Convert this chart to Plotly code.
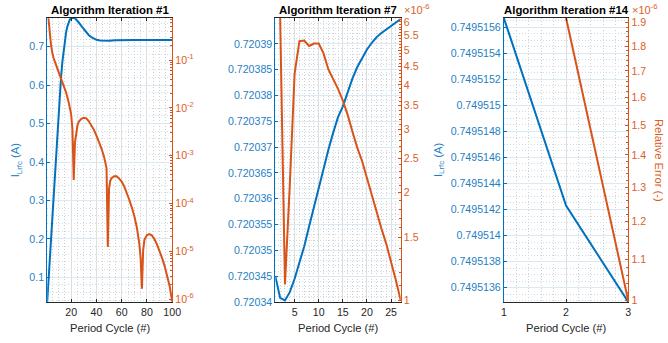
import plotly.graph_objects as go

BLUE = "#0072BD"
ORANGE = "#D95319"
AXC = "#262626"
FONT = "Liberation Sans, Arial, Helvetica, sans-serif"

# ---------------- data ----------------
titles = ["Algorithm Iteration #1", "Algorithm Iteration #7", "Algorithm Iteration #14"]
x_title = "Period Cycle (#)"
y_left_title = "I<sub>Lrfc</sub> (A)"
y_right_title = "Relative Error (-)"

# Iteration #1
it1_cycle_current = [1, 2, 3, 4, 5, 6, 7, 8, 9, 10, 11, 12, 13, 14, 15, 16, 17, 18, 19, 20,
                     21, 22, 23, 24, 26, 28, 30, 32, 34, 36, 38, 40, 43, 46, 50, 55, 60, 70,
                     80, 90, 100]
it1_current = [0.036, 0.09, 0.145, 0.20, 0.258, 0.315, 0.372, 0.425, 0.473, 0.522, 0.575,
               0.622, 0.66, 0.69, 0.716, 0.738, 0.753, 0.764, 0.771, 0.774, 0.775, 0.775,
               0.774, 0.771, 0.763, 0.754, 0.745, 0.737, 0.730, 0.725, 0.721, 0.718, 0.716,
               0.7155, 0.7158, 0.7165, 0.7172, 0.7175, 0.7175, 0.7175, 0.7175]
it1_cycle_error = [2, 3, 4, 5, 6, 8, 10, 12, 14, 16, 18, 19, 20, 21, 22, 23, 24, 25, 26, 28,
                   30, 32, 34, 36, 38, 40, 42, 44, 46, 47, 48, 49, 50, 51, 52, 54, 56, 58, 60,
                   62, 64, 66, 68, 70, 72, 73, 74, 75, 76, 77, 78, 80, 82, 84, 86, 88, 90, 92,
                   94, 96, 98, 100]
it1_error = [0.750, 0.355, 0.209, 0.145, 0.112, 0.0794, 0.0575, 0.0417, 0.0302, 0.0209,
             0.0132, 0.0100, 0.00724, 0.00355, 0.000309, 0.00191, 0.00316, 0.00437, 0.00513,
             0.00589, 0.00617, 0.00603, 0.00525, 0.00437, 0.00347, 0.00263, 0.00195, 0.00141,
             0.000955, 0.000760, 0.000550, 1.23e-5, 0.000209, 0.000302, 0.000339, 0.000372,
             0.000372, 0.000331, 0.000288, 0.000229, 0.000170, 0.000120, 8.32e-5, 5.5e-5,
             3.16e-5, 2.24e-5, 1.41e-5, 7.1e-6, 1.66e-6, 1.05e-5, 1.74e-5, 2.19e-5, 2.29e-5,
             2.14e-5, 1.78e-5, 1.38e-5, 1.02e-5, 7.24e-6, 4.90e-6, 3.16e-6, 1.86e-6, 8.9e-7]
it1_xticks = [20, 40, 60, 80, 100]
it1_left_ticks = [0.1, 0.2, 0.3, 0.4, 0.5, 0.6, 0.7]
it1_left_ticktext = ["0.1", "0.2", "0.3", "0.4", "0.5", "0.6", "0.7"]
it1_right_ticks = [1e-6, 1e-5, 1e-4, 1e-3, 1e-2, 1e-1]
it1_right_ticktext = ["10<sup>-6</sup>", "10<sup>-5</sup>", "10<sup>-4</sup>",
                      "10<sup>-3</sup>", "10<sup>-2</sup>", "10<sup>-1</sup>"]

# Iteration #7
it7_cycle_current = list(range(1, 28))
it7_current = [0.7203450, 0.7203408, 0.7203403, 0.7203419, 0.7203445, 0.7203476, 0.7203508,
               0.7203546, 0.7203584, 0.7203621, 0.7203659, 0.7203695, 0.7203728, 0.7203758,
               0.7203779, 0.7203807, 0.7203833, 0.7203855, 0.7203873, 0.7203889, 0.7203902,
               0.7203913, 0.7203921, 0.7203928, 0.7203935, 0.7203942, 0.7203948]
it7_cycle_error = list(range(2, 28))
it7_error = [6.2e-6, 1.11e-6, 2.1e-6, 4.3e-6, 5.3e-6, 5.32e-6, 5.14e-6, 5.22e-6, 5.22e-6,
             4.9e-6, 4.42e-6, 4.15e-6, 3.9e-6, 3.62e-6, 3.3e-6, 2.96e-6, 2.67e-6, 2.45e-6,
             2.2e-6, 1.95e-6, 1.75e-6, 1.59e-6, 1.44e-6, 1.29e-6, 1.14e-6, 1.0e-6]
it7_xticks = [5, 10, 15, 20, 25]
it7_left_ticks = [0.72034, 0.720345, 0.72035, 0.720355, 0.72036, 0.720365, 0.72037,
                  0.720375, 0.72038, 0.720385, 0.72039]
it7_left_ticktext = ["0.72034", "0.720345", "0.72035", "0.720355", "0.72036", "0.720365",
                     "0.72037", "0.720375", "0.72038", "0.720385", "0.72039"]
it7_right_ticks = [1e-6, 1.5e-6, 2e-6, 2.5e-6, 3e-6, 3.5e-6, 4e-6, 4.5e-6, 5e-6, 5.5e-6, 6e-6]
it7_right_ticktext = ["1", "1.5", "2", "2.5", "3", "3.5", "4", "4.5", "5", "5.5", "6"]

# Iteration #14
it14_cycle_current = [1, 2, 3]
it14_current = [0.74951567, 0.74951423, 0.74951349]
it14_cycle_error = [2, 3]
it14_error = [1.921e-6, 1.0e-6]
it14_xticks = [1, 2, 3]
it14_left_ticks = [0.7495136, 0.7495138, 0.749514, 0.7495142, 0.7495144, 0.7495146,
                   0.7495148, 0.749515, 0.7495152, 0.7495154, 0.7495156]
it14_left_ticktext = ["0.7495136", "0.7495138", "0.749514", "0.7495142", "0.7495144",
                      "0.7495146", "0.7495148", "0.749515", "0.7495152", "0.7495154",
                      "0.7495156"]
it14_right_ticks = [1e-6, 1.1e-6, 1.2e-6, 1.3e-6, 1.4e-6, 1.5e-6, 1.6e-6, 1.7e-6, 1.8e-6, 1.9e-6]
it14_right_ticktext = ["1", "1.1", "1.2", "1.3", "1.4", "1.5", "1.6", "1.7", "1.8", "1.9"]

# ---------------- styling / layout ----------------
W, H = 668, 343
MT, MB = 18, 41
PLOT_H = H - MT - MB

GRID_V = "#dedede"
GRID_H = "#d9eaf5"
MINOR_V = "#d0d0d0"
MINOR_H = "#c6def0"
TICK_BLUE = "#1f7fc4"
TICK_ORANGE = "#dc5e27"
TICK_SIZE = 10.6


def px_x(p):
    return p / W


def px_y(p):
    return (H - MB - p) / PLOT_H


panels = [
    dict(cur_x=it1_cycle_current, cur=it1_current, err_x=it1_cycle_error, err=it1_error,
         xdom=[45, 172.3], xrange=[1, 100], xticks=it1_xticks, xminor=5, xminor0=0,
         lrange=[0.0357, 0.7747], lticks=it1_left_ticks, ltext=it1_left_ticktext,
         lminor=0.02, lminor0=0.0,
         rrange=[-6.06, -0.12], rticks=it1_right_ticks, rtext=it1_right_ticktext,
         rminor=[m * 10.0 ** e for e in range(-7, 0) for m in range(2, 10)],
         exp_label=False),
    dict(cur_x=it7_cycle_current, cur=it7_current, err_x=it7_cycle_error, err=it7_error,
         xdom=[277.3, 405], xrange=[1, 27], xticks=it7_xticks, xminor=1, xminor0=0,
         lrange=[0.72034, 0.7203950], lticks=it7_left_ticks, ltext=it7_left_ticktext,
         lminor=1e-6, lminor0=0.72034,
         rrange=[-6.004, -5.211], rticks=it7_right_ticks, rtext=it7_right_ticktext,
         rminor=[k * 1e-7 for k in range(10, 62)],
         exp_label=True),
    dict(cur_x=it14_cycle_current, cur=it14_current, err_x=it14_cycle_error, err=it14_error,
         xdom=[510, 636.7], xrange=[1, 3], xticks=it14_xticks, xminor=0.2, xminor0=1,
         lrange=[0.74951349, 0.74951567], lticks=it14_left_ticks, ltext=it14_left_ticktext,
         lminor=5e-8, lminor0=0.7495136,
         rrange=[-6.0013, -5.7165], rticks=it14_right_ticks, rtext=it14_right_ticktext,
         rminor=[k * 1e-8 for k in range(100, 194, 2)],
         exp_label=True),
]

fig = go.Figure()
layout = dict(
    width=W, height=H,
    margin=dict(l=0, r=0, t=MT, b=MB, pad=0),
    paper_bgcolor="white", plot_bgcolor="white",
    showlegend=False,
    font=dict(family=FONT, size=10, color=AXC),
)
annotations = []

for i, p in enumerate(panels):
    n = i + 1
    xname = "x" if n == 1 else f"x{n}"
    xkey = "xaxis" if n == 1 else f"xaxis{n}"
    ly = 2 * n - 1
    ry = 2 * n
    lyname = "y" if ly == 1 else f"y{ly}"
    lykey = "yaxis" if ly == 1 else f"yaxis{ly}"
    ryname = f"y{ry}"
    rykey = f"yaxis{ry}"

    fig.add_trace(go.Scatter(x=p["cur_x"], y=p["cur"], xaxis=xname, yaxis=lyname,
                             mode="lines", line=dict(color=BLUE, width=2),
                             hoverinfo="skip"))
    fig.add_trace(go.Scatter(x=p["err_x"], y=p["err"], xaxis=xname, yaxis=ryname,
                             mode="lines", line=dict(color=ORANGE, width=2),
                             hoverinfo="skip"))

    layout[xkey] = dict(
        domain=[px_x(p["xdom"][0]), px_x(p["xdom"][1])],
        range=p["xrange"], anchor=lyname,
        tickmode="array", tickvals=p["xticks"], ticktext=[str(t) for t in p["xticks"]],
        ticks="inside", ticklen=3, tickwidth=1, tickcolor=AXC,
        showline=True, linecolor=AXC, linewidth=1, mirror="ticks",
        showgrid=True, gridcolor=GRID_V, gridwidth=1, zeroline=False,
        tickfont=dict(size=TICK_SIZE, color=AXC, family=FONT),
        minor=dict(tickmode="linear", tick0=p["xminor0"], dtick=p["xminor"],
                   showgrid=True, gridcolor=MINOR_V, griddash="1px,2px", gridwidth=1,
                   ticks=""),
    )
    layout[lykey] = dict(
        domain=[0, 1], anchor=xname, side="left",
        range=p["lrange"],
        tickmode="array", tickvals=p["lticks"], ticktext=p["ltext"],
        ticks="inside", ticklen=3, tickwidth=1, tickcolor=BLUE,
        showline=True, linecolor=BLUE, linewidth=1,
        showgrid=True, gridcolor=GRID_H, gridwidth=1, zeroline=False,
        tickfont=dict(size=TICK_SIZE, color=TICK_BLUE, family=FONT),
        minor=dict(tickmode="linear", tick0=p["lminor0"], dtick=p["lminor"],
                   showgrid=True, gridcolor=MINOR_H, griddash="1px,2px", gridwidth=1,
                   ticks=""),
    )
    layout[rykey] = dict(
        overlaying=lyname, anchor=xname, side="right", type="log",
        range=p["rrange"],
        tickmode="array", tickvals=p["rticks"], ticktext=p["rtext"],
        ticks="inside", ticklen=3, tickwidth=1, tickcolor=ORANGE,
        showline=True, linecolor=ORANGE, linewidth=1,
        showgrid=False, zeroline=False,
        tickfont=dict(size=TICK_SIZE, color=TICK_ORANGE, family=FONT),
        minor=dict(tickmode="array", tickvals=p["rminor"], ticks="inside", ticklen=2,
                   tickcolor=ORANGE, tickwidth=1, showgrid=False),
    )

    cx = (p["xdom"][0] + p["xdom"][1]) / 2
    annotations.append(dict(text=f"<b>{titles[i]}</b>", x=px_x(cx), y=px_y(10),
                            xref="paper", yref="paper", xanchor="center", yanchor="middle",
                            showarrow=False, font=dict(size=11.4, color="#000000", family=FONT)))
    annotations.append(dict(text=x_title, x=px_x(cx), y=px_y(328),
                            xref="paper", yref="paper", xanchor="center", yanchor="middle",
                            showarrow=False, font=dict(size=11.2, color=AXC, family=FONT)))
    if p["exp_label"]:
        annotations.append(dict(text="\u00d710<sup>-6</sup>", x=px_x(p["xdom"][1] + 1.5),
                                y=px_y(9), xref="paper", yref="paper", xanchor="left",
                                yanchor="middle", showarrow=False,
                                font=dict(size=11, color=TICK_ORANGE, family=FONT)))

# y-axis labels
annotations.append(dict(text=y_left_title, x=px_x(13.5), y=px_y(160), xref="paper", yref="paper",
                        xanchor="center", yanchor="middle", textangle=-90, showarrow=False,
                        font=dict(size=11.2, color=TICK_BLUE, family=FONT)))
annotations.append(dict(text=y_left_title, x=px_x(444), y=px_y(160), xref="paper", yref="paper",
                        xanchor="center", yanchor="middle", textangle=-90, showarrow=False,
                        font=dict(size=11.2, color=TICK_BLUE, family=FONT)))
# right label (partly cut by the figure edge, as in the reference)
annotations.append(dict(text=y_right_title, x=1.0, y=px_y(160), xref="paper", yref="paper",
                        textangle=90, showarrow=True, ax=0, ay=0, axref="pixel", ayref="pixel",
                        arrowcolor="rgba(0,0,0,0)", arrowwidth=0.1, arrowhead=0,
                        xshift=0,
                        font=dict(size=11.2, color=TICK_ORANGE, family=FONT)))

layout["annotations"] = annotations
fig.update_layout(**layout)

fig.write_html("out.html", config={"displayModeBar": False})
